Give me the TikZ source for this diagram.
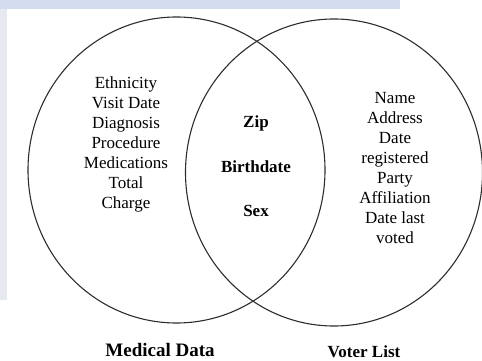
\documentclass[tikz,border=0pt]{standalone}
\usepackage{fontspec}
\setmainfont{Liberation Serif}
\usetikzlibrary{shapes.geometric}
\definecolor{wmblue}{RGB}{212,221,240}
\definecolor{wmgray}{RGB}{230,233,240}
\definecolor{linegray}{RGB}{45,45,45}
\tikzset{
  setcircle/.style={ellipse, draw=linegray, line width=1.1pt, inner sep=0pt},
  listtext/.style={align=center, inner sep=0pt, font=\fontsize{17}{20}\selectfont},
  boldtext/.style={inner sep=0pt, font=\fontsize{17}{20}\selectfont\bfseries},
  titletext/.style={inner sep=0pt}
}
\begin{document}
\begin{tikzpicture}[x=1pt,y=-1pt]
\useasboundingbox (0,0) rectangle (482,361);
% faint watermark strips
\fill[wmblue] (0,0) rectangle (400,9);
\fill[wmgray] (0,9) rectangle (7,300);
% sets
\node[setcircle, minimum width=297pt, minimum height=306pt] (med) at (176.5,170) {};
\node[setcircle, minimum width=297pt, minimum height=307pt] (vot) at (334,172.5) {};
% left list
\node[listtext] (medlist) at (126,144) {Ethnicity\\Visit Date\\Diagnosis\\Procedure\\Medications\\Total\\Charge};
% intersection
\node[boldtext] (zip) at (256,123) {Zip};
\node[boldtext] (birth) at (256,167) {Birthdate};
\node[boldtext] (sex) at (256,211) {Sex};
% right list
\node[listtext] (votlist) at (395,168) {Name\\Address\\Date\\registered\\Party\\Affiliation\\Date last\\voted};
% titles
\node[titletext, font=\fontsize{19}{22}\selectfont\bfseries] (medtitle) at (160,350) {Medical Data};
\node[titletext, font=\fontsize{17}{20}\selectfont\bfseries] (vottitle) at (364,351.5) {Voter List};
\end{tikzpicture}
\end{document}
